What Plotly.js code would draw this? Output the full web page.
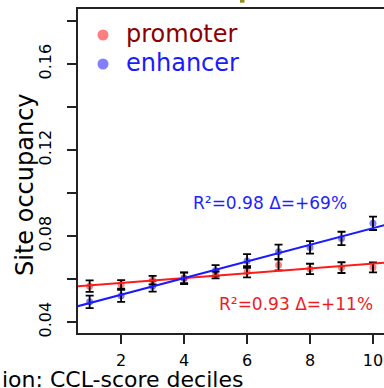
<!DOCTYPE html>
<html>
<head>
<meta charset="utf-8">
<script src="https://cdn.plot.ly/plotly-3.0.1.min.js"></script>
<style>
html,body{margin:0;padding:0;overflow:hidden;background:#fff;}
#chart{width:384px;height:388px;}
</style>
</head>
<body>
<div id="chart"></div>
<script>
// Data
var deciles = [1, 2, 3, 4, 5, 6, 7, 8, 9, 10];
var promoterOcc = [0.0567, 0.0575, 0.0595, 0.0606, 0.0619, 0.0634, 0.0665, 0.0647, 0.0653, 0.0654];
var promoterErr = [0.0027, 0.0020, 0.0020, 0.0025, 0.0016, 0.0026, 0.0025, 0.0024, 0.0025, 0.0023];
var enhancerOcc = [0.0494, 0.0522, 0.0567, 0.0603, 0.0640, 0.0684, 0.0727, 0.0747, 0.0789, 0.0859];
var enhancerErr = [0.0029, 0.0028, 0.0026, 0.0027, 0.0025, 0.0032, 0.0033, 0.0029, 0.0031, 0.0031];
var fitX = [0.5, 10.5];
var promoterFit = [0.0565, 0.0678];
var enhancerFit = [0.0469, 0.0856];
var seriesNames = ['promoter', 'enhancer'];
var xTicks = [2, 4, 6, 8, 10];
var yTicks = [0.04, 0.06, 0.08, 0.10, 0.12, 0.14, 0.16, 0.18];
var yTickText = ['0.04', '', '0.08', '', '0.12', '', '0.16', ''];

var FONT = 'DejaVu Sans, sans-serif';
var redPt = 'rgba(255,0,0,0.5)';
var bluePt = 'rgba(0,0,255,0.5)';

// helpers: pixel -> paper fraction (plot area x:78..384, y:9..333)
function px(v) { return (v - 78) / 306; }
function py(v) { return (333 - v) / 324; }

var traces = [
  {x: deciles, y: promoterOcc, type: 'scatter', mode: 'markers',
   marker: {color: redPt, size: 7}, showlegend: false, hoverinfo: 'skip'},
  {x: deciles, y: enhancerOcc, type: 'scatter', mode: 'markers',
   marker: {color: bluePt, size: 7}, showlegend: false, hoverinfo: 'skip'},
  {x: deciles, y: promoterOcc, type: 'scatter', mode: 'markers',
   marker: {color: 'rgba(0,0,0,0)', size: 1}, showlegend: false, hoverinfo: 'skip',
   error_y: {type: 'data', array: promoterErr, visible: true, color: '#000', thickness: 1.8, width: 4}},
  {x: deciles, y: enhancerOcc, type: 'scatter', mode: 'markers',
   marker: {color: 'rgba(0,0,0,0)', size: 1}, showlegend: false, hoverinfo: 'skip',
   error_y: {type: 'data', array: enhancerErr, visible: true, color: '#000', thickness: 1.8, width: 4}},
  {x: fitX, y: promoterFit, type: 'scatter', mode: 'lines',
   line: {color: '#ff1a1a', width: 2}, showlegend: false, hoverinfo: 'skip'},
  {x: fitX, y: enhancerFit, type: 'scatter', mode: 'lines',
   line: {color: '#1a1aff', width: 2}, showlegend: false, hoverinfo: 'skip'}
];

var legendColors = ['#8b0000', '#1a1aff'];
var legendDots = [redPt, bluePt];
var legendRowsY = [34, 63];

var annotations = [
  {xref: 'paper', yref: 'paper', x: px(269.5), y: py(203),
   text: 'R²=0.98 Δ=+69%', showarrow: false, xanchor: 'center', yanchor: 'middle',
   font: {family: FONT, size: 17, color: '#1f1fff'}},
  {xref: 'paper', yref: 'paper', x: px(296), y: py(304),
   text: 'R²=0.93 Δ=+11%', showarrow: false, xanchor: 'center', yanchor: 'middle',
   font: {family: FONT, size: 17, color: '#ee1c25'}},
  {xref: 'paper', yref: 'paper', x: px(0), y: py(379),
   text: 'ion: CCL-score deciles', showarrow: false, xanchor: 'left', yanchor: 'middle',
   height: 20, valign: 'middle',
   font: {family: FONT, size: 22, color: '#000'}},
  {xref: 'paper', yref: 'paper', x: px(25), y: py(185),
   text: 'Site occupancy', showarrow: false, textangle: -90, xanchor: 'center', yanchor: 'middle',
   font: {family: FONT, size: 24, color: '#000'}}
];
var shapes = [
  {type: 'rect', xref: 'paper', yref: 'paper', x0: px(240), x1: px(244.5),
   y0: py(2.7), y1: py(-1), fillcolor: '#8f8f1f', line: {width: 0}, layer: 'above'}
];
seriesNames.forEach(function (name, i) {
  annotations.push({xref: 'paper', yref: 'paper', x: px(124), y: py(legendRowsY[i]),
    text: name, showarrow: false, xanchor: 'left', yanchor: 'middle',
    font: {family: FONT, size: 24, color: legendColors[i]}});
  shapes.push({type: 'circle', xref: 'paper', yref: 'paper', xsizemode: 'pixel', ysizemode: 'pixel',
    xanchor: px(103), yanchor: py(legendRowsY[i] + 1), x0: -5.5, x1: 5.5, y0: -5.5, y1: 5.5,
    fillcolor: legendDots[i], line: {width: 0}, layer: 'above'});
});

var layout = {
  width: 384, height: 388,
  margin: {l: 78, r: 0, t: 9, b: 55, pad: 0},
  paper_bgcolor: '#fff', plot_bgcolor: '#fff',
  font: {family: FONT, color: '#000', size: 16},
  showlegend: false,
  xaxis: {range: [0.63, 10.35], tickvals: xTicks, ticktext: xTicks.map(String),
          showgrid: false, zeroline: false, showline: true, mirror: true,
          linecolor: '#222', linewidth: 2, ticks: 'outside', ticklen: 9, tickwidth: 1.5, tickcolor: '#222',
          ticklabelstandoff: 3,
          tickfont: {family: FONT, size: 16, color: '#000'}},
  yaxis: {range: [0.0349, 0.1856], tickvals: yTicks, ticktext: yTickText, tickangle: -90,
          showgrid: false, zeroline: false, showline: true, mirror: false,
          linecolor: '#222', linewidth: 2, ticks: 'outside', ticklen: 9, tickwidth: 1.5, tickcolor: '#222',
          ticklabelstandoff: 10,
          tickfont: {family: FONT, size: 16, color: '#000'}},
  annotations: annotations,
  shapes: shapes
};

Plotly.newPlot('chart', traces, layout, {displayModeBar: false, staticPlot: true});
</script>
</body>
</html>
